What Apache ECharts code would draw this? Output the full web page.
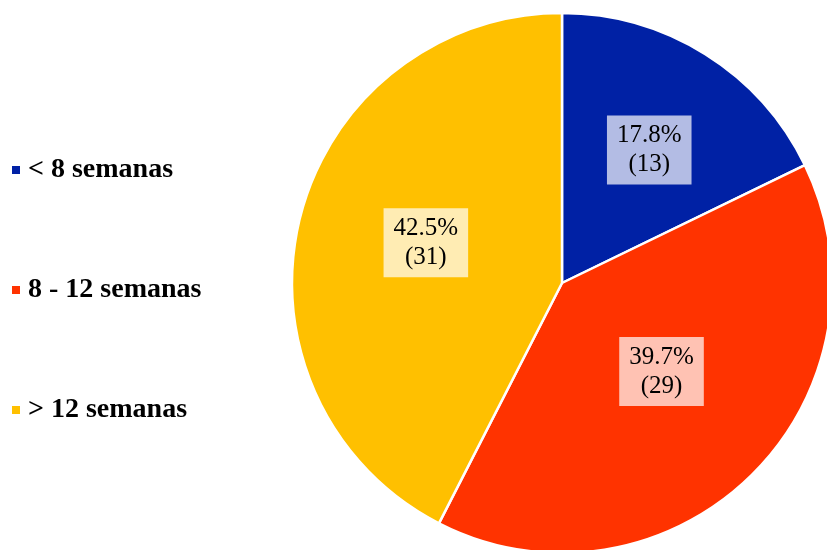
<!DOCTYPE html>
<html>
<head>
<meta charset="utf-8">
<script src="https://cdn.jsdelivr.net/npm/echarts@6/dist/echarts.min.js"></script>
<style>
  html, body { margin: 0; padding: 0; background: #ffffff; }
  #chart { width: 827px; height: 550px; }
</style>
</head>
<body>
<div id="chart"></div>
<script>
// Duration groups and number of cases in each
const categories = ['< 8 semanas', '8 - 12 semanas', '> 12 semanas'];
const counts = [13, 29, 31];
const colors = ['#0021A5', '#FF3300', '#FFC000'];

const total = counts.reduce((a, b) => a + b, 0);

// small nudges of the value boxes inside their slices
const labelNudge = [[14, -16], [3, -10], [-2, -8]];

const chart = echarts.init(document.getElementById('chart'), null, { renderer: 'canvas' });

chart.setOption({
  animation: false,
  backgroundColor: '#ffffff',
  legend: {
    orient: 'vertical',
    left: 5,
    top: 151,
    itemGap: 92,
    itemWidth: 10,
    itemHeight: 10,
    icon: 'rect',
    data: categories,
    textStyle: {
      fontFamily: '"Liberation Serif", "Times New Roman", serif',
      fontWeight: 'bold',
      fontSize: 28,
      color: '#000000',
      padding: [0, 0, 0, 2]
    }
  },
  series: [{
    type: 'pie',
    center: [562, 283],
    radius: [0, 270],
    startAngle: 90,
    clockwise: true,
    avoidLabelOverlap: false,
    itemStyle: { borderColor: '#ffffff', borderWidth: 2.5 },
    label: {
      show: true,
      position: 'inside',
      formatter: function (p) {
        return (p.value / total * 100).toFixed(1) + '%\n(' + p.value + ')';
      },
      fontFamily: '"Liberation Serif", "Times New Roman", serif',
      fontSize: 25,
      lineHeight: 29,
      color: '#000000',
      backgroundColor: 'rgba(255,255,255,0.7)',
      padding: [6, 10, 5, 10]
    },
    labelLayout: function (params) {
      const n = labelNudge[params.dataIndex];
      return { dx: n[0], dy: n[1] };
    },
    labelLine: { show: false },
    data: categories.map((name, i) => ({
      name: name,
      value: counts[i],
      itemStyle: { color: colors[i] }
    }))
  }]
});
</script>
</body>
</html>
